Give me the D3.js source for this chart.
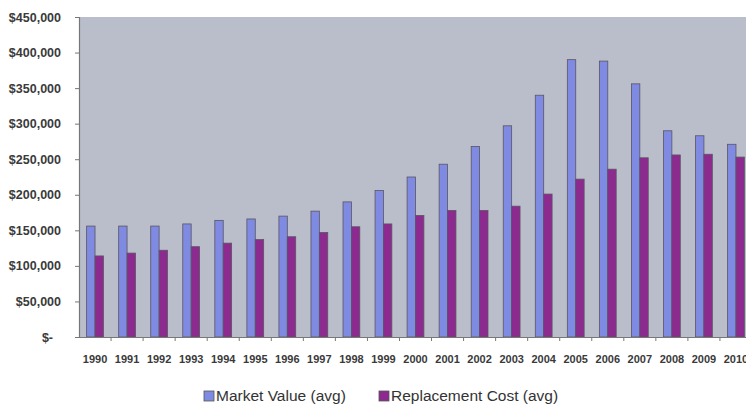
<!DOCTYPE html>
<html>
<head>
<meta charset="utf-8">
<script src="https://cdn.jsdelivr.net/npm/d3@7"></script>
<style>
  html, body { margin: 0; padding: 0; background: #ffffff; }
  svg { display: block; }
  text { font-family: "Liberation Sans", Arial, sans-serif; }
</style>
</head>
<body>
<svg id="chart" width="746" height="404"></svg>
<script>
const years = ["1990","1991","1992","1993","1994","1995","1996","1997","1998","1999","2000",
               "2001","2002","2003","2004","2005","2006","2007","2008","2009","2010"];
const marketValue = [156000,156000,156000,159000,164000,166000,170000,177000,190000,206000,225000,
                     243000,268000,297000,340000,390000,388000,356000,290000,283000,271000];
const replacementCost = [114000,118000,122000,127000,132000,137000,141000,147000,155000,159000,171000,
                         178000,178000,184000,201000,222000,236000,252000,256000,257000,253000];
const seriesNames = ["Market Value (avg)", "Replacement Cost (avg)"];
const seriesColors = ["#7f8ae2", "#8c2a90"];
const yTicks = [0,50000,100000,150000,200000,250000,300000,350000,400000,450000];

const svg = d3.select("#chart");
const plotL = 79, plotR = 752, plotT = 17, plotB = 337;

const x = d3.scaleBand().domain(years).range([plotL, plotR]).paddingInner(0).paddingOuter(0);
const bw = x.bandwidth();
const barW = 8.4;
const x1 = d3.scaleBand().domain(seriesNames).range([bw/2 - barW, bw/2 + barW]).padding(0);
const y = d3.scaleLinear().domain([0, 450000]).range([plotB, plotT]);

// plot background
svg.append("rect")
  .attr("x", plotL).attr("y", plotT)
  .attr("width", plotR - plotL).attr("height", plotB - plotT)
  .attr("fill", "#babecb");

const table = years.map((yr, i) => ({ year: yr, values: [marketValue[i], replacementCost[i]] }));

const groups = svg.append("g").selectAll("g").data(table).join("g")
  .attr("transform", d => `translate(${x(d.year)},0)`);

groups.selectAll("rect").data(d => d.values.map((v, j) => ({ name: seriesNames[j], v, j })))
  .join("rect")
  .attr("x", d => x1(d.name))
  .attr("y", d => y(d.v))
  .attr("width", x1.bandwidth())
  .attr("height", d => y(0) - y(d.v))
  .attr("fill", d => seriesColors[d.j])
  .attr("stroke", "#5a5560")
  .attr("stroke-width", 0.8);

// Y axis
const fmt = d3.format(",");
const yAxis = d3.axisLeft(y).tickValues(yTicks).tickSize(4).tickPadding(14)
  .tickFormat(d => d === 0 ? "$-" : "$" + fmt(d));
const gy = svg.append("g").attr("transform", `translate(${plotL},0)`).call(yAxis);
gy.select(".domain").attr("stroke", "#777").attr("stroke-width", 1.2);
gy.selectAll(".tick line").attr("stroke", "#777");
gy.selectAll(".tick text")
  .attr("font-size", 12.5).attr("font-weight", "bold").attr("fill", "#3a3a3a")
  .attr("dx", d => d === 0 ? -8 : 0);

// X axis
const xAxis = d3.axisBottom(x).tickSize(0).tickPadding(18);
const gx = svg.append("g").attr("transform", `translate(0,${plotB})`).call(xAxis);
gx.select(".domain").attr("stroke", "#777").attr("stroke-width", 1.2);
gx.selectAll(".tick text")
  .attr("font-size", 11).attr("font-weight", "bold").attr("fill", "#3a3a3a");
// category boundary ticks
gx.append("g").selectAll("line").data(years.slice(1)).join("line")
  .attr("x1", d => x(d)).attr("x2", d => x(d))
  .attr("y1", 0).attr("y2", 4)
  .attr("stroke", "#777");

// Legend
const legend = svg.append("g");
const legX = [204, 379];
seriesNames.forEach((name, j) => {
  legend.append("rect")
    .attr("x", legX[j]).attr("y", 391)
    .attr("width", 10).attr("height", 10)
    .attr("fill", seriesColors[j]).attr("stroke", "#555").attr("stroke-width", 0.8);
  legend.append("text")
    .attr("x", legX[j] + 12).attr("y", 401)
    .attr("font-size", 15.5).attr("fill", "#333")
    .text(name);
});
</script>
</body>
</html>
